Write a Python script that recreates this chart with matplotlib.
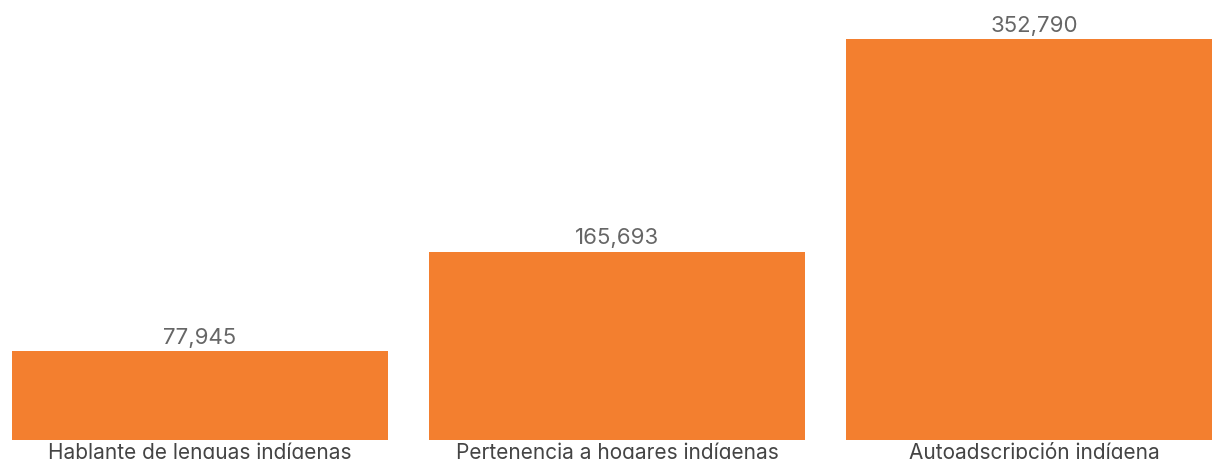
import matplotlib
matplotlib.use("Agg")
from matplotlib import pyplot as plt

categories = ["Hablante de lenguas indígenas", "Pertenencia a hogares indígenas", "Autoadscripción indígena"]
values = [77945, 165693, 352790]
value_labels = ["77,945", "165,693", "352,790"]

plt.rcParams['font.family'] = ['Inter', 'DejaVu Sans']

fig = plt.figure(figsize=(12.12, 4.6), dpi=100)
ax = fig.add_axes([0, 19 / 460, 1, 441 / 460])

x = list(range(len(categories)))
ax.bar(x, values, width=376 / 417, color="#F37F2F")

ax.set_xlim(-200 / 417, 1012 / 417)
ax.set_ylim(0, max(values) * 441 / 401)

for xi, v, lab in zip(x, values, value_labels):
    ax.annotate(lab, (xi, v), xytext=(0, 3), textcoords="offset points",
                ha="center", va="bottom", fontsize=16, color="#666666")

ax.set_xticks(x)
ax.set_xticklabels(categories, fontsize=15, color="#444444")
ax.tick_params(axis="x", length=0, pad=1)
ax.set_yticks([])
for s in ax.spines.values():
    s.set_visible(False)

fig.savefig("out.png", dpi=100)
